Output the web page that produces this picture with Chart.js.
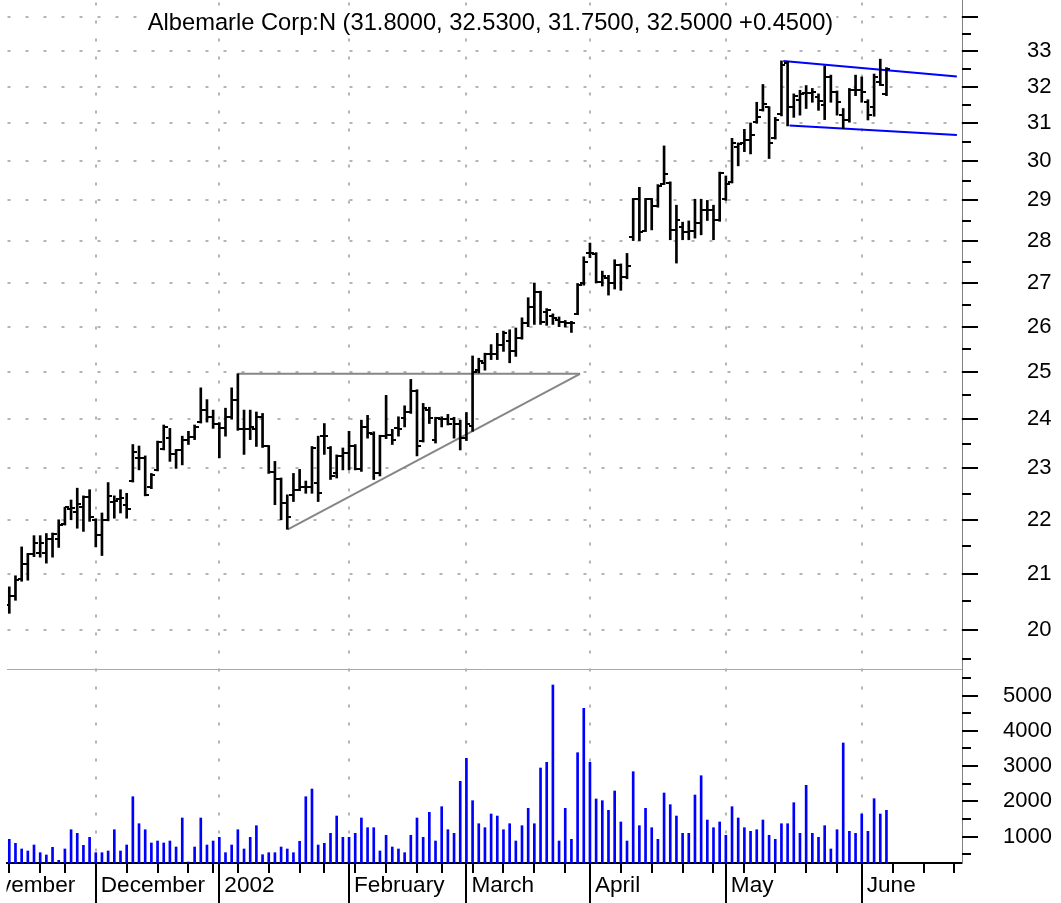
<!DOCTYPE html>
<html>
<head>
<meta charset="utf-8">
<script src="https://cdn.jsdelivr.net/npm/chart.js@4/dist/chart.umd.min.js"></script>
<style>
  html, body { margin: 0; padding: 0; background: #fff; overflow: hidden; }
  #wrap { width: 1061px; height: 903px; }
</style>
</head>
<body>
<div id="wrap"><canvas id="chart"></canvas></div>
<script>
// one bar per trading day: index 0 = 12 Nov 2001, index 142 = 7 Jun 2002
const opens = [
  20.43, 20.6, 20.9, 21.17, 21.35, 21.38, 21.38, 21.63, 21.63, 21.92,
  22.21, 22.14, 22.24, 22.44, 22.0, 21.71, 22.0, 22.35, 22.4, 22.29,
  22.75, 23.21, 23.21, 22.63, 22.97, 23.39, 23.61, 23.28, 23.37, 23.58,
  23.64, 23.94, 24.19, 24.04, 23.9, 23.81, 24.04, 24.4, 23.79, 23.79,
  23.8, 24.04, 23.44, 22.92, 22.79, 22.32, 22.48, 22.58, 22.64, 22.64,
  22.72, 23.65, 23.4, 22.9, 23.25, 23.31, 23.44, 22.98, 23.84, 23.7,
  22.9, 23.65, 23.68, 23.81, 24.02, 24.15, 24.6, 23.55, 24.2, 23.58,
  24.0, 24.0, 24.0, 23.91, 23.61, 23.85, 25.05, 25.2, 25.39, 25.39,
  25.6, 25.69, 25.45, 25.75, 26.09, 26.45, 26.79, 26.33, 26.25, 26.15,
  26.1, 26.09, 26.29, 27.0, 27.7, 27.69, 27.02, 27.12, 26.99, 27.43,
  27.14, 28.1, 29.03, 28.25, 29.03, 28.85, 29.42, 29.45, 28.27, 28.35,
  28.22, 28.24, 28.44, 28.75, 28.75, 28.51, 29.03, 29.46, 30.38, 30.47,
  30.56, 31.03, 31.35, 31.43, 30.6, 31.25, 32.65, 31.43, 31.64, 31.82,
  31.82, 31.71, 31.49, 32.27, 31.84, 31.22, 31.09, 31.9, 31.9, 31.57,
  31.45, 32.14, 31.8
];
const highs = [
  20.76, 20.96, 21.49, 21.37, 21.7, 21.7, 21.74, 21.75, 22.0, 22.24,
  22.38, 22.61, 22.46, 22.58, 22.02, 22.13, 22.72, 22.46, 22.58, 22.51,
  23.48, 23.45, 23.25, 22.9, 23.55, 23.88, 23.81, 23.38, 23.65, 23.75,
  23.88, 24.66, 24.41, 24.19, 23.93, 24.23, 24.66, 24.96, 24.19, 24.19,
  24.15, 24.12, 23.46, 23.14, 22.81, 22.48, 22.9, 22.98, 22.75, 23.44,
  23.65, 23.91, 23.44, 23.27, 23.41, 23.75, 23.48, 23.98, 24.08, 23.74,
  23.67, 24.5, 23.79, 24.05, 24.28, 24.84, 24.62, 24.33, 24.25, 24.04,
  24.05, 24.1, 24.04, 23.98, 24.14, 25.35, 25.3, 25.41, 25.6, 25.85,
  25.9, 25.93, 25.97, 26.2, 26.66, 27.0, 26.81, 26.41, 26.29, 26.22,
  26.14, 26.12, 26.99, 27.62, 27.95, 27.72, 27.28, 27.18, 27.55, 27.45,
  27.7, 29.05, 29.33, 29.05, 29.05, 29.4, 30.4, 29.47, 28.88, 28.46,
  28.49, 29.03, 29.03, 29.0, 28.88, 29.72, 29.62, 30.6, 30.48, 30.84,
  31.01, 31.57, 32.06, 31.45, 31.16, 32.72, 32.7, 31.8, 31.9, 32.03,
  31.95, 31.8, 32.58, 32.32, 31.88, 31.4, 31.95, 32.32, 32.27, 31.64,
  32.35, 32.77, 32.53
];
const lows = [
  20.29, 20.52, 20.86, 20.88, 21.31, 21.3, 21.19, 21.3, 21.48, 21.9,
  22.0, 21.84, 21.78, 21.97, 21.49, 21.33, 21.98, 22.03, 22.13, 22.03,
  22.73, 22.97, 22.46, 22.6, 22.95, 23.37, 23.14, 23.0, 23.07, 23.48,
  23.58, 23.92, 23.94, 23.81, 23.21, 23.65, 24.0, 23.77, 23.28, 23.58,
  23.44, 23.42, 22.9, 22.29, 22.0, 21.82, 22.35, 22.56, 22.51, 22.51,
  22.35, 23.28, 22.78, 22.81, 22.97, 22.97, 22.97, 22.94, 23.61, 22.78,
  22.85, 23.6, 23.48, 23.65, 23.84, 24.12, 23.25, 23.53, 23.91, 23.51,
  23.84, 23.88, 23.61, 23.37, 23.56, 23.75, 24.98, 25.04, 25.27, 25.27,
  25.45, 25.2, 25.34, 25.72, 26.0, 26.05, 26.05, 26.03, 26.05, 26.0,
  25.99, 25.87, 26.27, 26.95, 27.6, 27.0, 26.93, 26.72, 26.86, 26.83,
  27.1, 28.01, 28.01, 28.23, 28.27, 28.83, 29.4, 28.03, 27.47, 28.03,
  28.03, 28.07, 28.15, 28.5, 28.03, 28.48, 29.0, 29.44, 29.88, 30.25,
  30.19, 31.0, 31.33, 30.07, 30.58, 31.2, 30.93, 31.16, 31.22, 31.4,
  31.57, 31.35, 31.1, 31.57, 31.22, 30.86, 31.03, 31.75, 31.57, 31.09,
  31.19, 32.03, 31.75
];
const closes = [
  20.6, 20.89, 21.17, 21.35, 21.56, 21.56, 21.63, 21.74, 21.9, 22.24,
  22.22, 22.3, 22.44, 22.05, 21.71, 22.0, 22.46, 22.37, 22.42, 22.2,
  23.33, 23.21, 22.48, 22.86, 23.53, 23.84, 23.28, 23.37, 23.58, 23.64,
  23.83, 24.19, 24.04, 23.9, 23.81, 24.04, 24.4, 23.79, 23.79, 23.83,
  24.04, 23.44, 22.92, 22.79, 22.32, 22.06, 22.58, 22.64, 22.64, 23.41,
  22.52, 23.65, 22.85, 23.25, 23.31, 23.44, 22.98, 23.84, 23.71, 22.9,
  23.65, 23.68, 23.58, 23.79, 24.15, 24.6, 23.44, 24.23, 24.02, 24.02,
  24.0, 23.91, 23.91, 23.61, 23.91, 25.0, 25.25, 25.39, 25.39, 25.6,
  25.85, 25.45, 25.75, 26.09, 26.45, 26.79, 26.1, 26.37, 26.2, 26.11,
  26.09, 26.09, 26.95, 27.5, 27.72, 27.02, 27.16, 26.99, 27.43, 27.14,
  27.39, 29.03, 28.22, 29.03, 28.86, 29.37, 29.68, 28.27, 28.52, 28.22,
  28.24, 28.44, 28.75, 28.75, 28.51, 29.7, 29.42, 30.47, 30.45, 30.56,
  30.69, 31.16, 31.53, 30.47, 31.1, 32.6, 31.43, 31.75, 31.8, 31.82,
  31.85, 31.6, 32.27, 31.85, 31.57, 31.09, 31.9, 31.9, 31.85, 31.22,
  32.27, 32.05, 32.5
];
const volumes = [
  926, 813, 652, 595, 765, 547, 482, 700, 331, 652,
  1198, 1096, 756, 983, 547, 547, 595, 1198, 595, 765,
  2133, 1368, 1198, 822, 878, 822, 878, 708, 1530, 283,
  708, 1530, 765, 878, 983, 547, 765, 1198, 652, 983,
  1312, 490, 547, 547, 708, 652, 547, 870, 2133, 2351,
  765, 813, 1096, 1586, 983, 983, 1096, 1530, 1255, 1255,
  595, 1040, 708, 652, 547, 1040, 1530, 983, 1691, 878,
  1850, 1198, 1096, 2569, 3221, 2020, 1368, 1255, 1643, 1586,
  1198, 1368, 878, 1312, 1804, 1368, 2946, 3108, 5298, 878,
  1804, 926, 3380, 4637, 3108, 2068, 2020, 1747, 2295, 1417,
  878, 2842, 1312, 1804, 1255, 926, 2238, 1907, 1586, 1096,
  1096, 2181, 2728, 1473, 1255, 1417, 1040, 1850, 1530, 1255,
  1153, 1198, 1473, 1040, 926, 1368, 1368, 1963, 1096, 2456,
  1096, 983, 1312, 652, 1198, 3655, 1153, 1096, 1643, 1153,
  2077, 1643, 1747
];

// drawn trend lines: [bar index, price]
const triangleTop = [[36.9, 24.96], [92.4, 24.96]];
const triangleBase = [[45.1, 21.82], [92.4, 24.96]];
const flagTop = [[125.3, 32.72], [153.4, 32.28]];
const flagBase = [[126.3, 30.94], [153.4, 30.69]];

// axes
const priceTicks = [20, 21, 22, 23, 24, 25, 26, 27, 28, 29, 30, 31, 32, 33, 34];
const priceMinor = [19.5, 20.5, 21.5, 22.5, 23.5, 24.5, 25.5, 26.5, 27.5, 28.5, 29.5, 30.5, 31.5, 32.5, 33.5];
const volTicks = [1000, 2000, 3000, 4000, 5000];
const volMinor = [500, 1500, 2500, 3500, 4500, 5500];
const monthIdx = [-7, 14, 34, 55, 74, 94, 116, 138];
const monthNames = ['November', 'December', '2002', 'February', 'March', 'April', 'May', 'June'];
const weekIdx = [0, 5, 9, 14, 19, 24, 29, 33, 37, 42, 47, 51, 56, 61, 66, 70, 75, 80, 85, 90,
                 94, 99, 104, 109, 114, 119, 124, 129, 134, 138, 143, 148, 153];

const FONT = '"Liberation Sans", Arial, sans-serif';
Chart.defaults.font.family = FONT;
Chart.defaults.color = '#000';

// small images used as point styles for the open (left) and close (right) ticks
function tickImg(left) {
    const c = document.createElement('canvas');
    c.width = 8; c.height = 2;
    const g = c.getContext('2d');
    g.fillStyle = '#000';
    g.fillRect(left ? 0 : 4, 0, 4, 2);
    return c;
}

const last = opens.length - 1;
const title = 'Albemarle Corp:N (' + opens[last].toFixed(4) + ', ' + highs[last].toFixed(4) + ', ' +
    lows[last].toFixed(4) + ', ' + closes[last].toFixed(4) + ' +' + (closes[last] - closes[last - 1]).toFixed(4) + ')';

const toXY = arr => arr.map(p => ({x: p[0], y: p[1]}));

// axis tick marks, panel separator and the title line
const decor = {
    id: 'decor',
    afterDraw(chart) {
        const {ctx, chartArea: a, scales: {x, y, y2}} = chart;
        ctx.save();
        // the month label that starts before the plot is cut at the plot edge
        ctx.fillStyle = '#fff';
        ctx.fillRect(0, a.bottom + 2, a.left - 0.5, chart.height - a.bottom);

        ctx.strokeStyle = '#a8a8a8';
        ctx.lineWidth = 1;
        ctx.beginPath();
        ctx.moveTo(a.left, Math.round(y.bottom) + 0.5);
        ctx.lineTo(a.right, Math.round(y.bottom) + 0.5);
        ctx.stroke();

        ctx.strokeStyle = '#000';
        ctx.lineWidth = 2;
        const hTick = (sc, v, len) => {
            const py = Math.round(sc.getPixelForValue(v));
            ctx.beginPath();
            ctx.moveTo(sc.left, py);
            ctx.lineTo(sc.left + len, py);
            ctx.stroke();
        };
        priceTicks.forEach(v => hTick(y, v, 16));
        priceMinor.forEach(v => hTick(y, v, 9));
        volTicks.forEach(v => hTick(y2, v, 16));
        volMinor.forEach(v => hTick(y2, v, 9));

        const vTick = (i, len) => {
            const px = Math.round(x.getPixelForValue(i));
            if (px < a.left || px > a.right) return;
            ctx.beginPath();
            ctx.moveTo(px, a.bottom);
            ctx.lineTo(px, a.bottom + len);
            ctx.stroke();
        };
        weekIdx.forEach(i => vTick(i, 10));
        monthIdx.forEach(i => vTick(i, 40));

        ctx.font = '23.7px ' + FONT;
        const w = ctx.measureText(title).width;
        ctx.fillStyle = '#fff';
        ctx.fillRect(490.5 - w / 2 - 3, 10, w + 6, 26);
        ctx.fillStyle = '#000';
        ctx.textAlign = 'center';
        ctx.textBaseline = 'middle';
        ctx.fillText(title, 490.5, 23);
        ctx.restore();
    }
};

const noPad = s => { s.paddingTop = 0; s.paddingBottom = 0; s.paddingLeft = 0; s.paddingRight = 0; };

new Chart(document.getElementById('chart'), {
    type: 'bar',
    data: {
        datasets: [
            {
                type: 'scatter', label: 'open', order: 1,
                data: opens.map((v, i) => ({x: i, y: v})),
                pointStyle: tickImg(true), pointRadius: 3, yAxisID: 'y'
            },
            {
                type: 'scatter', label: 'close', order: 1,
                data: closes.map((v, i) => ({x: i, y: v})),
                pointStyle: tickImg(false), pointRadius: 3, yAxisID: 'y'
            },
            {
                type: 'bar', label: 'range', order: 2, grouped: false,
                data: highs.map((h, i) => ({x: i, y: [lows[i], h]})),
                backgroundColor: '#000', barThickness: 2, yAxisID: 'y'
            },
            {
                type: 'bar', label: 'volume', order: 3, grouped: false,
                data: volumes.map((v, i) => ({x: i, y: v})),
                backgroundColor: '#0000ff', barThickness: 2, yAxisID: 'y2'
            },
            {
                type: 'line', order: 4, data: toXY(triangleTop),
                borderColor: '#868686', borderWidth: 2, pointRadius: 0, yAxisID: 'y'
            },
            {
                type: 'line', order: 4, data: toXY(triangleBase),
                borderColor: '#868686', borderWidth: 2, pointRadius: 0, yAxisID: 'y'
            },
            {
                type: 'line', order: 4, data: toXY(flagTop),
                borderColor: '#0000ff', borderWidth: 2, pointRadius: 0, yAxisID: 'y'
            },
            {
                type: 'line', order: 4, data: toXY(flagBase),
                borderColor: '#0000ff', borderWidth: 2, pointRadius: 0, yAxisID: 'y'
            }
        ]
    },
    options: {
        responsive: true,
        maintainAspectRatio: false,
        devicePixelRatio: 1,
        animation: false,
        events: [],
        layout: { padding: { left: 7, top: 0, right: 0, bottom: 0 }, autoPadding: false },
        plugins: { legend: { display: false }, tooltip: { enabled: false }, title: { display: false } },
        scales: {
            x: {
                type: 'linear', min: -0.372, max: 154.23, offset: false,
                afterBuildTicks: s => { s.ticks = monthIdx.map(v => ({value: v})); },
                afterFit: s => { s.height = 40; noPad(s); },
                grid: { offset: false, color: '#b4b4b4', lineWidth: 2, drawTicks: false },
                border: { color: '#000', width: 2, dash: [3, 15], dashOffset: 15.5 },
                ticks: {
                    autoSkip: false, maxRotation: 0, minRotation: 0, align: 'start',
                    labelOffset: 5, padding: 9, font: { size: 22.6 },
                    callback: (v, i) => monthNames[i]
                }
            },
            y: {
                type: 'logarithmic', position: 'right', stack: 'panels', stackWeight: 669,
                min: 19.336, max: 34.49,
                afterBuildTicks: s => { s.ticks = priceTicks.map(v => ({value: v})); },
                afterFit: s => { s.width = 99; noPad(s); },
                grid: { color: '#b4b4b4', lineWidth: 2, drawTicks: false },
                border: { color: '#808080', width: 1, dash: [3, 15], dashOffset: 17.5 },
                ticks: {
                    autoSkip: false, padding: 65, crossAlign: 'near', font: { size: 22 },
                    callback: v => (v === 34 ? '' : String(v))
                }
            },
            y2: {
                type: 'linear', position: 'right', stack: 'panels', stackWeight: 194,
                min: 255, max: 5751,
                afterBuildTicks: s => { s.ticks = volTicks.map(v => ({value: v})); },
                afterFit: s => { s.width = 99; noPad(s); },
                grid: { display: false, drawTicks: false },
                border: { color: '#808080', width: 1 },
                ticks: { autoSkip: false, padding: 41, crossAlign: 'near', font: { size: 22 },
                    callback: v => String(v) }
            }
        }
    },
    plugins: [decor]
});
</script>
</body>
</html>
